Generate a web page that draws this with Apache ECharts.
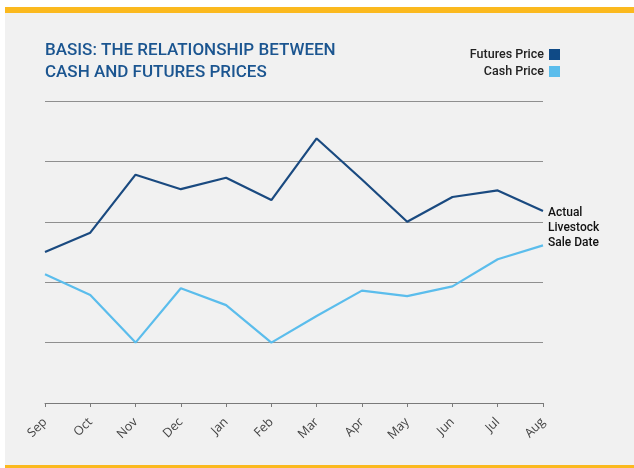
<!DOCTYPE html>
<html>
<head>
<meta charset="utf-8">
<script src="https://cdn.jsdelivr.net/npm/echarts@6.0.0/dist/echarts.min.js"></script>
<style>
  html, body { margin: 0; padding: 0; background: #fff; }
  #chart { width: 634px; height: 468px; }
</style>
</head>
<body>
<div id="chart"></div>
<script>
// months along the bottom
const months = ['Sep', 'Oct', 'Nov', 'Dec', 'Jan', 'Feb', 'Mar', 'Apr', 'May', 'Jun', 'Jul', 'Aug'];
// values (unitless, gridline = 1)
const futuresPrice = [2.5, 2.82, 3.78, 3.54, 3.73, 3.36, 4.38, 3.70, 3.0, 3.41, 3.52, 3.18];
const cashPrice = [2.13, 1.79, 1.0, 1.9, 1.62, 1.0, 1.44, 1.86, 1.77, 1.93, 2.38, 2.61];

const chart = echarts.init(document.getElementById('chart'));

const font = 'Roboto';

const option = {
  backgroundColor: '#ffffff',
  animation: false,
  textStyle: { fontFamily: font },
  graphic: [
    // gray panel
    { type: 'rect', z: -10, shape: { x: 5, y: 13, width: 629, height: 452 }, style: { fill: '#f1f1f1' } },
    // yellow rules top and bottom
    { type: 'rect', z: -10, shape: { x: 5, y: 7, width: 629, height: 6 }, style: { fill: '#fbb91e' } },
    { type: 'rect', z: -10, shape: { x: 5, y: 465, width: 629, height: 3 }, style: { fill: '#fbb91e' } }
  ],
  title: {
    text: 'BASIS: THE RELATIONSHIP BETWEEN\nCASH AND FUTURES PRICES',
    left: 40,
    top: 40,
    padding: [0, 5],
    textStyle: {
      color: '#1b5590',
      fontFamily: font,
      fontSize: 17,
      fontWeight: 500,
      lineHeight: 21.7
    }
  },
  legend: {
    orient: 'vertical',
    right: 74,
    top: 48,
    padding: 0,
    align: 'right',
    icon: 'rect',
    itemWidth: 11,
    itemHeight: 11,
    itemGap: 4,
    textStyle: { color: '#222', fontSize: 12.5, fontWeight: 500, fontFamily: font },
    data: ['Futures Price', 'Cash Price']
  },
  grid: { left: 45, right: 91, top: 101, bottom: 65, containLabel: false },
  xAxis: {
    type: 'category',
    boundaryGap: false,
    data: months,
    axisLine: { lineStyle: { color: '#7a7a7a', width: 1 } },
    axisTick: { show: true, length: 4, alignWithLabel: true, lineStyle: { color: '#7a7a7a' } },
    axisLabel: { rotate: 45, fontSize: 12.5, color: '#444', margin: 17, fontFamily: 'Open Sans' }
  },
  yAxis: {
    type: 'value',
    min: 0,
    max: 5,
    interval: 1,
    axisLine: { show: false },
    axisTick: { show: false },
    axisLabel: { show: false },
    splitLine: { lineStyle: { color: '#8f8f8f', width: 1.2 } }
  },
  series: [
    {
      name: 'Futures Price',
      type: 'line',
      data: futuresPrice,
      symbol: 'none',
      color: '#0f4a86',
      lineStyle: { color: '#1a4a80', width: 2.2 },
      endLabel: {
        show: true,
        formatter: 'Actual\nLivestock\nSale Date',
        color: '#111',
        fontSize: 12,
        fontWeight: 500,
        fontFamily: font,
        lineHeight: 14.7,
        align: 'left',
        verticalAlign: 'top',
        distance: 5,
        offset: [0, -5]
      }
    },
    {
      name: 'Cash Price',
      type: 'line',
      data: cashPrice,
      symbol: 'none',
      color: '#5bbdec',
      lineStyle: { color: '#5bbdec', width: 2.2 }
    }
  ]
};

chart.setOption(option);
</script>
</body>
</html>
